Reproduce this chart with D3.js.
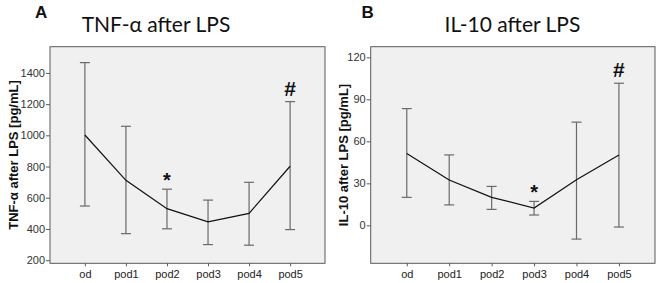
<!DOCTYPE html>
<html>
<head>
<meta charset="utf-8">
<script src="https://cdn.jsdelivr.net/npm/d3@7"></script>
<style>
  body { margin: 0; background: #fff; }
  svg { display: block; }
</style>
</head>
<body>
<svg id="chart" width="660" height="283"></svg>
<script>
// ---- data ----
var days = ["od", "pod1", "pod2", "pod3", "pod4", "pod5"];

var tnfMean  = [1002, 712, 530, 446, 500, 802];
var tnfUpper = [1466, 1058, 655, 585, 699, 1216];
var tnfLower = [547, 370, 401, 300, 296, 396];
var tnfTicks = [200, 400, 600, 800, 1000, 1200, 1400];
var tnfMarks = [{ day: "pod2", sym: "*" }, { day: "pod5", sym: "#" }];

var il10Mean  = [51.4, 32.4, 20.0, 12.4, 32.6, 50.2];
var il10Upper = [83.4, 50.3, 27.8, 17.1, 73.7, 101.5];
var il10Lower = [20.0, 14.6, 11.4, 7.4, -9.8, -1.2];
var il10Ticks = [0, 30, 60, 90, 120];
var il10Marks = [{ day: "pod3", sym: "*" }, { day: "pod5", sym: "#" }];

var svg = d3.select("#chart");

function panel(opt) {
  var g = svg.append("g");
  var top = 46.7, bottom = 263.3;

  var x = d3.scalePoint().domain(days).range([opt.left, opt.right]).padding(0.85);
  var y = d3.scaleLinear().domain(opt.domain).range([bottom, top]);

  // plot box
  g.append("rect")
    .attr("x", opt.left).attr("y", top)
    .attr("width", opt.right - opt.left).attr("height", bottom - top)
    .attr("fill", "#f0f0f0").attr("stroke", "#5a5a5a").attr("stroke-width", 1);

  // y axis
  var ya = g.append("g")
    .attr("transform", "translate(" + opt.left + ",0)")
    .call(d3.axisLeft(y).tickValues(opt.ticks).tickFormat(d3.format("d")).tickSize(4).tickSizeOuter(0));
  ya.select(".domain").remove();
  ya.selectAll("line").attr("stroke", "#5a5a5a");
  ya.selectAll("text").attr("font-family", "Arial, 'Liberation Sans', sans-serif")
    .attr("font-size", 11).attr("fill", "#333").attr("x", -5);

  // x axis
  var xa = g.append("g")
    .attr("transform", "translate(0," + bottom + ")")
    .call(d3.axisBottom(x).tickSize(3).tickSizeOuter(0));
  xa.select(".domain").remove();
  xa.selectAll("line").attr("stroke", "#5a5a5a");
  xa.selectAll("text").attr("font-family", "Arial, 'Liberation Sans', sans-serif")
    .attr("font-size", 11).attr("fill", "#222").attr("y", 7);

  var rows = days.map(function(d, i) {
    return { day: d, mean: opt.mean[i], hi: opt.upper[i], lo: opt.lower[i] };
  });

  // error bars
  var eb = g.selectAll(".eb").data(rows).enter().append("g").attr("class", "eb")
    .attr("stroke", "#6a6a6a").attr("stroke-width", 1.2);
  eb.append("line")
    .attr("x1", function(d) { return x(d.day); }).attr("x2", function(d) { return x(d.day); })
    .attr("y1", function(d) { return y(d.hi); }).attr("y2", function(d) { return y(d.lo); });
  eb.append("line")
    .attr("x1", function(d) { return x(d.day) - 5; }).attr("x2", function(d) { return x(d.day) + 5; })
    .attr("y1", function(d) { return y(d.hi); }).attr("y2", function(d) { return y(d.hi); });
  eb.append("line")
    .attr("x1", function(d) { return x(d.day) - 5; }).attr("x2", function(d) { return x(d.day) + 5; })
    .attr("y1", function(d) { return y(d.lo); }).attr("y2", function(d) { return y(d.lo); });

  // mean line
  g.append("path").datum(rows)
    .attr("fill", "none").attr("stroke", "#111").attr("stroke-width", 1.2)
    .attr("d", d3.line().x(function(d) { return x(d.day); }).y(function(d) { return y(d.mean); }));

  // significance marks
  g.selectAll(".sig").data(opt.marks).enter().append("text")
    .attr("x", function(d) { return x(d.day); })
    .attr("y", function(d) {
      var hi = opt.upper[days.indexOf(d.day)];
      return y(hi) - (d.sym === "*" ? 2 : 6);
    })
    .attr("text-anchor", "middle")
    .attr("font-family", "Arial, 'Liberation Sans', sans-serif")
    .attr("font-size", function(d) { return d.sym === "*" ? 20 : 21; })
    .attr("font-weight", "bold")
    .attr("fill", "#111")
    .text(function(d) { return d.sym; });

  // y label
  g.append("text")
    .attr("transform", "translate(" + opt.ylabX + "," + ((top + bottom) / 2) + ") rotate(-90)")
    .attr("text-anchor", "middle").attr("dy", "0.35em")
    .attr("font-family", "Arial, 'Liberation Sans', sans-serif")
    .attr("font-size", 13).attr("font-weight", "bold").attr("fill", "#111")
    .text(opt.ylabel);

  // title
  g.append("text")
    .attr("x", opt.titleX).attr("y", 32)
    .attr("text-anchor", "middle")
    .attr("font-family", "Lato, 'Open Sans', sans-serif")
    .attr("font-size", 21).attr("fill", "#111")
    .text(opt.title);

  // panel letter
  g.append("text")
    .attr("x", opt.letterX).attr("y", 17.5)
    .attr("font-family", "Arial, 'Liberation Sans', sans-serif")
    .attr("font-size", 17).attr("font-weight", "bold").attr("fill", "#111")
    .text(opt.letter);
}

panel({
  left: 50, right: 325, domain: [180, 1568], ticks: tnfTicks,
  mean: tnfMean, upper: tnfUpper, lower: tnfLower, marks: tnfMarks,
  ylabel: "TNF-α after LPS [pg/mL]", ylabX: 13.5,
  title: "TNF-α after LPS", titleX: 156, letter: "A", letterX: 35
});

panel({
  left: 370.7, right: 655, domain: [-27.1, 127.6], ticks: il10Ticks,
  mean: il10Mean, upper: il10Upper, lower: il10Lower, marks: il10Marks,
  ylabel: "IL-10 after LPS [pg/mL]", ylabX: 343.5,
  title: "IL-10 after LPS", titleX: 512.5, letter: "B", letterX: 361.5
});
</script>
</body>
</html>
